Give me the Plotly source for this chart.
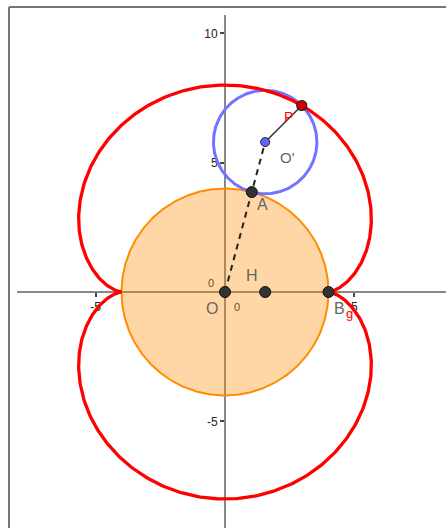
import numpy as np
import plotly.graph_objects as go

# ---- data ----
big_radius = 4          # fixed circle centred at O
small_radius = 2        # rolling circle centred at O'
roll_angle_deg = 75     # angle of O' around O
x_tick_vals = [-5, 5]
x_tick_text = ["-5", "5"]
y_tick_vals = [-5, 5, 10]
y_tick_text = ["-5", "5", "10"]

# ---- geometry derived from data ----
R, r = big_radius, small_radius
t0 = np.radians(roll_angle_deg)
k = (R + r) / r
O = (0.0, 0.0)
Oc = ((R + r) * np.cos(t0), (R + r) * np.sin(t0))
A = (R * np.cos(t0), R * np.sin(t0))
H = (Oc[0], 0.0)
B = (float(R), 0.0)
P = (Oc[0] - r * np.cos(k * t0), Oc[1] - r * np.sin(k * t0))

t = np.linspace(0, 2 * np.pi, 721)
epi_x = (R + r) * np.cos(t) - r * np.cos(k * t)
epi_y = (R + r) * np.sin(t) - r * np.sin(k * t)
big_x, big_y = R * np.cos(t), R * np.sin(t)
sm_x, sm_y = Oc[0] + r * np.cos(t), Oc[1] + r * np.sin(t)

# ---- pixel mapping of the frame ----
W, Hh = 446, 528
ml, mt = 17, 15
scale = 25.87
ox, oy = 225, 292
x_range = [(ml - ox) / scale, (W - ox) / scale]
y_range = [(oy - Hh) / scale, (oy - mt) / scale]
xpos = (0 - y_range[0]) / (y_range[1] - y_range[0])
ypos = (0 - x_range[0]) / (x_range[1] - x_range[0])

fig = go.Figure()
fig.add_trace(go.Scatter(x=big_x, y=big_y, mode="lines", fill="toself",
                         fillcolor="rgba(255,140,0,0.35)",
                         line=dict(color="rgb(255,140,0)", width=2), hoverinfo="skip"))
fig.add_trace(go.Scatter(x=sm_x, y=sm_y, mode="lines",
                         line=dict(color="rgb(115,115,255)", width=3), hoverinfo="skip"))
fig.add_trace(go.Scatter(x=epi_x, y=epi_y, mode="lines",
                         line=dict(color="rgb(255,0,0)", width=3.3), hoverinfo="skip"))
fig.add_trace(go.Scatter(x=[O[0], Oc[0]], y=[O[1], Oc[1]], mode="lines",
                         line=dict(color="#222", width=2, dash="6px,5px"), hoverinfo="skip"))
fig.add_trace(go.Scatter(x=[Oc[0], P[0]], y=[Oc[1], P[1]], mode="lines",
                         line=dict(color="#333", width=1.5), hoverinfo="skip"))
fig.add_trace(go.Scatter(x=[O[0], H[0], B[0], A[0]], y=[O[1], H[1], B[1], A[1]], mode="markers",
                         marker=dict(size=11, color="#333", line=dict(color="#111", width=1)),
                         hoverinfo="skip"))
fig.add_trace(go.Scatter(x=[Oc[0]], y=[Oc[1]], mode="markers",
                         marker=dict(size=9, color="rgb(100,100,255)", line=dict(color="#222", width=1)),
                         hoverinfo="skip"))
fig.add_trace(go.Scatter(x=[P[0]], y=[P[1]], mode="markers",
                         marker=dict(size=10, color="rgb(210,0,0)", line=dict(color="#222", width=1.2)),
                         hoverinfo="skip"))

def lab(x, y, text, color="#666", size=16):
    fig.add_annotation(x=x, y=y, text=text, showarrow=False, xanchor="center", yanchor="middle",
                       font=dict(family="Liberation Sans, Arial", size=size, color=color))

lab(O[0] - 0.5, O[1] - 0.62, "O")
lab(O[0] - 0.55, O[1] + 0.35, "0", color="#6b5030", size=11)
lab(O[0] + 0.47, O[1] - 0.58, "0", color="#6b5030", size=11)
lab(H[0] - 0.5, H[1] + 0.62, "H")
lab(A[0] + 0.4, A[1] - 0.5, "A")
lab(Oc[0] + 0.85, Oc[1] - 0.6, "O'", size=15)
lab(P[0] - 0.5, P[1] - 0.45, "P", color="rgb(255,0,0)", size=14)
lab(B[0] + 0.42, B[1] - 0.62, "B")
lab(B[0] + 0.8, B[1] - 0.85, "g", color="rgb(255,0,0)", size=13)

# frame lines (paper)
fx = (9 - ml) / (W - ml)
fy = 1 + (mt - 7) / (Hh - mt)
fig.add_shape(type="line", xref="paper", yref="paper", x0=fx, x1=1, y0=fy, y1=fy,
              line=dict(color="#777", width=2))
fig.add_shape(type="line", xref="paper", yref="paper", x0=fx, x1=fx, y0=0, y1=fy,
              line=dict(color="#777", width=2))

axis_common = dict(showgrid=False, zeroline=False, showline=True, linecolor="#888", linewidth=2,
                   ticks="outside", ticklen=4, tickwidth=1.5, tickcolor="#444",
                   tickfont=dict(family="Liberation Sans, Arial", size=12, color="#222"),
                   layer="below traces", anchor="free", fixedrange=True)
fig.update_layout(
    width=W, height=Hh, margin=dict(l=ml, r=0, t=mt, b=0),
    paper_bgcolor="white", plot_bgcolor="white", showlegend=False,
    xaxis=dict(range=x_range, tickvals=x_tick_vals, ticktext=x_tick_text,
               position=xpos, **axis_common),
    yaxis=dict(range=y_range, tickvals=y_tick_vals, ticktext=y_tick_text,
               position=ypos, **axis_common),
)
fig.write_html("out.html", config={"displayModeBar": False},
               post_script="document.body.style.margin='0px';document.body.style.overflow='hidden';")
